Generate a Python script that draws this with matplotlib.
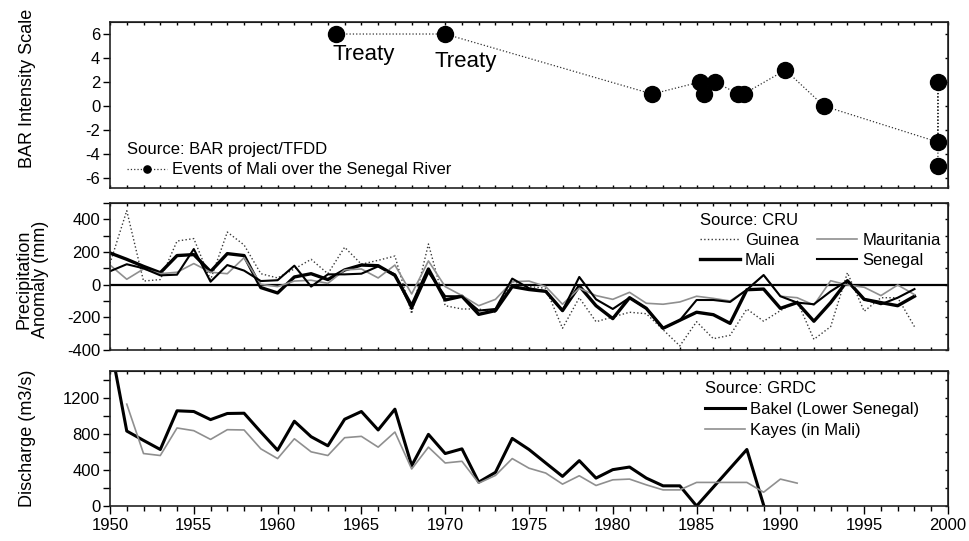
import numpy as np
import matplotlib
matplotlib.use('Agg')
import matplotlib.pyplot as plt
from matplotlib.ticker import MultipleLocator, NullFormatter

plt.rcParams['font.family'] = ['Liberation Sans', 'DejaVu Sans']
plt.rcParams['font.size'] = 12
plt.rcParams['axes.unicode_minus'] = False

# BAR events of Mali over the Senegal River
bar_years = [1963.5, 1970.0, 1982.35, 1985.2, 1985.45, 1986.1, 1987.5, 1987.8, 1990.3, 1992.6, 1999.4, 1999.4, 1999.4]
bar_scale = [6, 6, 1, 2, 1, 2, 1, 1, 3, 0, -3, 2, -5]
bar_labels = ['Treaty', 'Treaty', '', '', '', '', '', '', '', '', '', '', '']

# CRU precipitation anomaly (mm), 1950-1998
precip_years = list(range(1950, 1999))
guinea = [130, 453, 22, 31, 267, 282, 30, 322, 243, 67,
          41, 96, 155, 67, 229, 125, 149, 175, -178, 249,
          -129, -149, -149, -169, 20, -12, -22, -267, -80, -227,
          -198, -169, -178, -276, -375, -227, -331, -310, -149, -224,
          -159, -100, -335, -257, 73, -163, -80, -80, -257]
mauritania = [120, 33, 96, 67, 76, 129, 76, 67, 165, 2,
              -12, 22, 27, 8, 90, 96, 41, 120, -57, 145,
              -12, -67, -129, -90, 18, 22, -12, -120, -22, -67,
              -90, -47, -114, -120, -106, -71, -84, -100, -31, 57,
              -71, -80, -125, 24, -2, -16, -67, -2, -61]
mali = [194, 155, 112, 73, 178, 184, 80, 190, 178, -18,
        -51, 47, 67, 31, 90, 120, 116, 57, -129, 96,
        -94, -71, -182, -159, -12, -30, -41, -159, -8, -129,
        -208, -80, -145, -267, -218, -169, -184, -237, -31, -27,
        -145, -110, -224, -110, 24, -90, -110, -129, -71]
senegal = [82, 125, 100, 57, 61, 218, 18, 120, 86, 22,
           27, 116, -12, 63, 63, 67, 112, 63, -149, 76,
           -71, -71, -159, -149, 37, -22, -41, -159, 47, -90,
           -149, -80, -145, -267, -218, -94, -94, -106, -31, 59,
           -71, -110, -120, -41, 24, -90, -120, -80, -27]

# GRDC discharge (m3/s)
bakel_years = list(range(1950, 1986)) + [1988, 1989]
bakel = [1820, 833, 729, 628, 1058, 1050, 960, 1028, 1031, 822,
         620, 942, 770, 669, 964, 1050, 845, 1076, 448, 796,
         583, 635, 265, 374, 751, 628, 478, 329, 504, 310,
         404, 433, 310, 224, 224, 0, 628, 10]
kayes_years = list(range(1951, 1992))
kayes = [1132, 583, 561, 867, 837, 740, 848, 845, 635, 527,
         747, 602, 561, 759, 774, 654, 822, 411, 654, 478,
         497, 254, 340, 527, 420, 366, 243, 336, 228, 291,
         299, 235, 179, 179, 262, 262, 262, 262, 153, 299, 254]

fig = plt.figure(figsize=(9.7, 5.41), dpi=100)
ax1 = fig.add_axes([0.1134, 0.6525, 0.8639, 0.3068])
ax2 = fig.add_axes([0.1134, 0.3531, 0.8639, 0.2717])
ax3 = fig.add_axes([0.1134, 0.0647, 0.8639, 0.2495])


def style_axes(ax, ymajor, yminor, bottom_labels):
    ax.set_xlim(1950, 2000)
    ax.xaxis.set_major_locator(MultipleLocator(5))
    ax.xaxis.set_minor_locator(MultipleLocator(1))
    ax.yaxis.set_major_locator(MultipleLocator(ymajor))
    ax.yaxis.set_minor_locator(MultipleLocator(yminor))
    for s in ax.spines.values():
        s.set_linewidth(1.2)
        s.set_color('#222222')
    ax.tick_params(axis='y', which='both', direction='out', length=5, width=1, labelsize=12, pad=2)
    if bottom_labels:
        ax.tick_params(axis='x', which='major', direction='out', length=6, width=1, labelsize=12, pad=3)
        ax.tick_params(axis='x', which='minor', direction='out', length=3.5, width=1)
    else:
        ax.tick_params(axis='x', which='both', direction='in', length=2.5, width=1, labelbottom=False)
    # top and right ticks pointing inward
    top = ax.secondary_xaxis('top')
    top.xaxis.set_major_locator(MultipleLocator(1))
    top.tick_params(direction='in', length=2.5, width=1, labeltop=False)
    top.xaxis.set_major_formatter(NullFormatter())
    right = ax.secondary_yaxis('right')
    right.yaxis.set_major_locator(MultipleLocator(yminor))
    right.tick_params(direction='in', length=2.5, width=1, labelright=False)
    right.yaxis.set_major_formatter(NullFormatter())


# top panel: BAR events
ev, = ax1.plot(bar_years, bar_scale, color='#333333', linestyle=':', linewidth=0.9,
               marker='o', markersize=11.5, markerfacecolor='black', markeredgecolor='black')
for x, y, lab in zip(bar_years, bar_scale, bar_labels):
    if lab:
        dx = -3 if x < 1965 else -8
        dy = -15 if x < 1965 else -19.5
        ax1.annotate(lab, (x, y), xytext=(dx, dy), textcoords='offset points',
                     ha='left', va='center', fontsize=16)
ax1.set_ylim(-6.83, 7)
style_axes(ax1, 2, 2, False)
ax1.set_ylabel('BAR Intensity Scale', fontsize=13)
ax1.yaxis.set_label_coords(-0.088, 0.6)
ax1.legend([ev], ['Events of Mali over the Senegal River'], title='Source: BAR project/TFDD',
           loc='upper left', bbox_to_anchor=(0.02, 0.275), frameon=False, markerscale=0.45,
           fontsize=12, title_fontsize=12, alignment='left', handlelength=2.4,
           handletextpad=0.3, borderpad=0, borderaxespad=0, labelspacing=0.3)

# middle panel: precipitation anomaly
ax2.axhline(0, color='black', linewidth=1.6)
ax2.plot(precip_years, guinea, color='#3a3a3a', linestyle=':', linewidth=1.0, label='Guinea')
ax2.plot(precip_years, mali, color='black', linewidth=2.4, label='Mali')
ax2.plot(precip_years, mauritania, color='#8f8f8f', linewidth=1.2, label='Mauritania')
ax2.plot(precip_years, senegal, color='black', linewidth=1.5, label='Senegal')
ax2.set_ylim(-400, 500)
ax2.set_yticks([-400, -200, 0, 200, 400])
style_axes(ax2, 200, 100, False)
ax2.set_ylabel('Precipitation\nAnomaly (mm)', fontsize=13, linespacing=0.95)
ax2.yaxis.set_label_coords(-0.073, 0.48)
ax2.legend(title='Source: CRU', ncol=2, loc='upper left', bbox_to_anchor=(0.704, 0.93),
           frameon=False, fontsize=12, title_fontsize=12, alignment='left', handlelength=2.4,
           handletextpad=0.3, columnspacing=1.1, borderpad=0, borderaxespad=0, labelspacing=0.3)

# bottom panel: discharge
ax3.plot(bakel_years, bakel, color='black', linewidth=2.2, label='Bakel (Lower Senegal)')
ax3.plot(kayes_years, kayes, color='#8f8f8f', linewidth=1.2, label='Kayes (in Mali)')
ax3.set_ylim(0, 1500)
style_axes(ax3, 400, 200, True)
ax3.set_ylabel('Discharge (m3/s)', fontsize=13)
ax3.yaxis.set_label_coords(-0.088, 0.5)
ax3.legend(title='Source: GRDC', loc='upper left', bbox_to_anchor=(0.71, 0.925),
           frameon=False, fontsize=12, title_fontsize=12, alignment='left', handlelength=2.4,
           handletextpad=0.3, borderpad=0, borderaxespad=0, labelspacing=0.35)

fig.savefig('out.png', dpi=100)
